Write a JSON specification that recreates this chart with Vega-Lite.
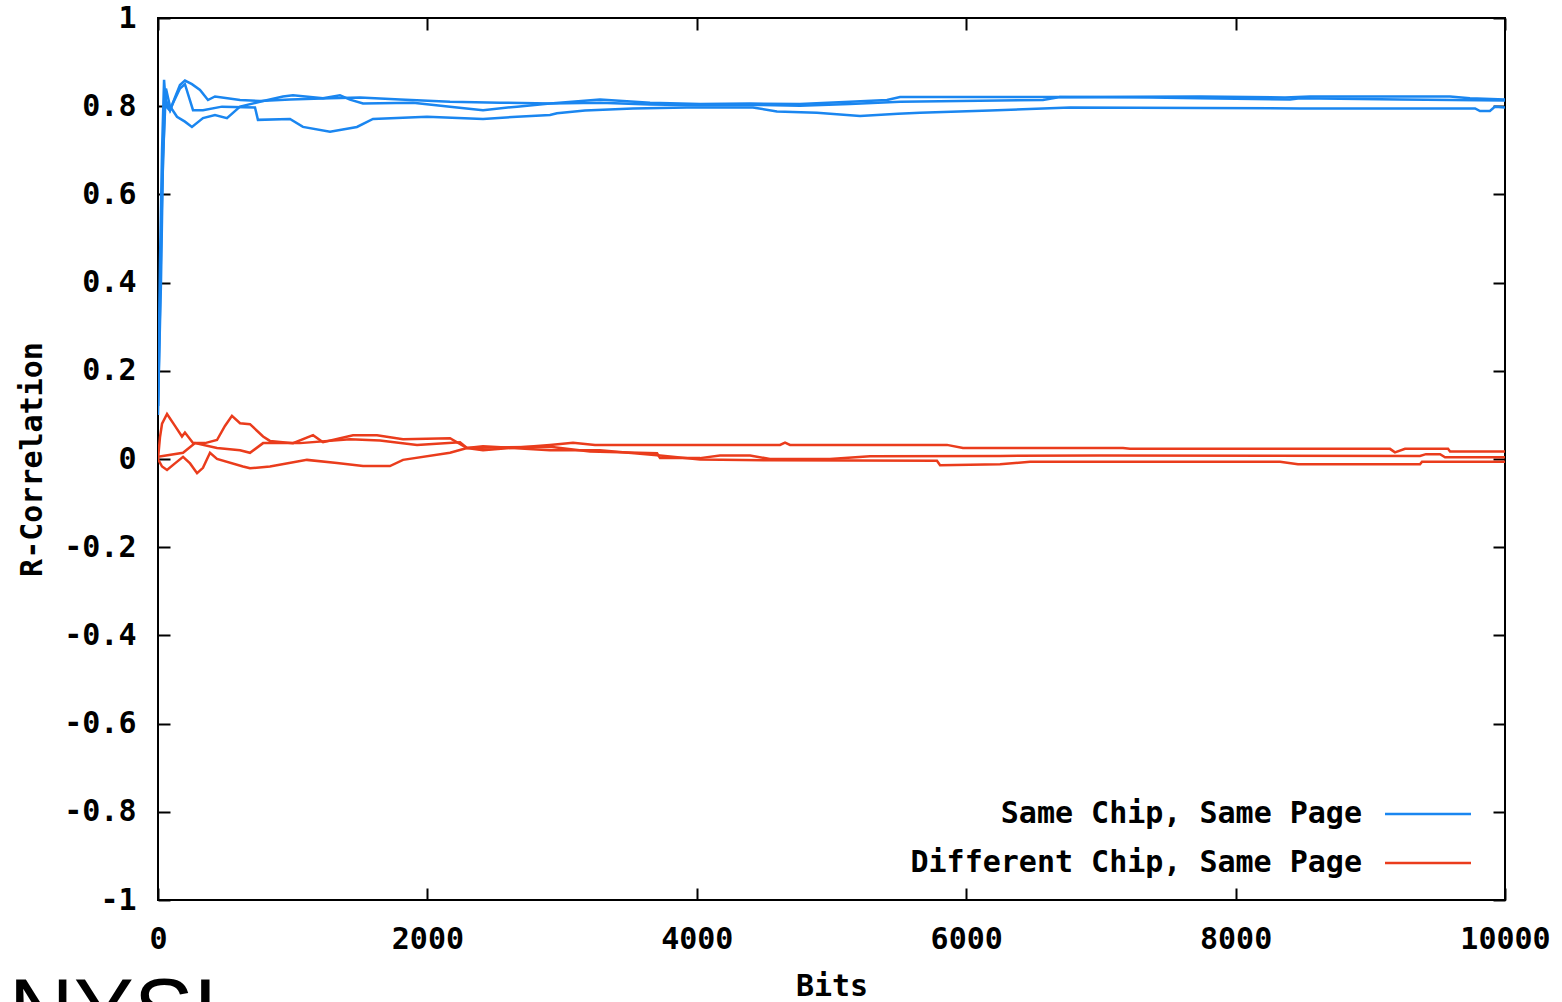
{
  "$schema": "https://vega.github.io/schema/vega-lite/v6.json",
  "width": 1347,
  "height": 882,
  "autosize": {"type": "none"},
  "padding": {"left": 158, "top": 18, "right": 57, "bottom": 102},
  "background": "white",
  "config": {
    "view": {"stroke": "black", "strokeWidth": 2},
    "font": "DejaVu Sans Mono"
  },
  "title": {
    "text": "NYSL",
    "orient": "bottom",
    "anchor": "start",
    "frame": "bounds",
    "font": "Liberation Sans",
    "fontSize": 90,
    "fontWeight": "normal",
    "color": "black",
    "offset": -30,
    "dx": -9
  },
  "datasets": {
    "traces": [
      {"t": "s1", "g": "Same Chip, Same Page"},
      {"t": "s2", "g": "Same Chip, Same Page"},
      {"t": "s3", "g": "Same Chip, Same Page"},
      {"t": "d1", "g": "Different Chip, Same Page"},
      {"t": "d2", "g": "Different Chip, Same Page"},
      {"t": "d3", "g": "Different Chip, Same Page"}
    ],
    "curves": [
      {"t": "s1", "bits": 0, "r": 0.12}, {"t": "s1", "bits": 15, "r": 0.45}, {"t": "s1", "bits": 30, "r": 0.70}, {"t": "s1", "bits": 45, "r": 0.86},
      {"t": "s1", "bits": 59, "r": 0.80}, {"t": "s1", "bits": 89, "r": 0.79}, {"t": "s1", "bits": 126, "r": 0.82}, {"t": "s1", "bits": 163, "r": 0.848},
      {"t": "s1", "bits": 200, "r": 0.858}, {"t": "s1", "bits": 252, "r": 0.85}, {"t": "s1", "bits": 312, "r": 0.837}, {"t": "s1", "bits": 371, "r": 0.814},
      {"t": "s1", "bits": 423, "r": 0.822}, {"t": "s1", "bits": 609, "r": 0.814}, {"t": "s1", "bits": 757, "r": 0.812}, {"t": "s1", "bits": 980, "r": 0.815},
      {"t": "s1", "bits": 1277, "r": 0.818}, {"t": "s1", "bits": 1500, "r": 0.82}, {"t": "s1", "bits": 1797, "r": 0.815}, {"t": "s1", "bits": 2168, "r": 0.81},
      {"t": "s1", "bits": 2539, "r": 0.808}, {"t": "s1", "bits": 2910, "r": 0.806}, {"t": "s1", "bits": 3281, "r": 0.815}, {"t": "s1", "bits": 3653, "r": 0.808},
      {"t": "s1", "bits": 4024, "r": 0.805}, {"t": "s1", "bits": 4395, "r": 0.806}, {"t": "s1", "bits": 4766, "r": 0.805}, {"t": "s1", "bits": 5137, "r": 0.81},
      {"t": "s1", "bits": 5412, "r": 0.814}, {"t": "s1", "bits": 5509, "r": 0.821}, {"t": "s1", "bits": 6771, "r": 0.821}, {"t": "s1", "bits": 7736, "r": 0.822},
      {"t": "s1", "bits": 8367, "r": 0.82}, {"t": "s1", "bits": 8552, "r": 0.822}, {"t": "s1", "bits": 9592, "r": 0.822}, {"t": "s1", "bits": 9740, "r": 0.818},
      {"t": "s1", "bits": 10000, "r": 0.815},

      {"t": "s2", "bits": 0, "r": 0.12}, {"t": "s2", "bits": 22, "r": 0.40}, {"t": "s2", "bits": 37, "r": 0.68}, {"t": "s2", "bits": 59, "r": 0.84},
      {"t": "s2", "bits": 89, "r": 0.80}, {"t": "s2", "bits": 141, "r": 0.776}, {"t": "s2", "bits": 200, "r": 0.765}, {"t": "s2", "bits": 252, "r": 0.753},
      {"t": "s2", "bits": 334, "r": 0.773}, {"t": "s2", "bits": 423, "r": 0.78}, {"t": "s2", "bits": 512, "r": 0.773}, {"t": "s2", "bits": 609, "r": 0.799},
      {"t": "s2", "bits": 757, "r": 0.81}, {"t": "s2", "bits": 928, "r": 0.822}, {"t": "s2", "bits": 1002, "r": 0.825}, {"t": "s2", "bits": 1225, "r": 0.818},
      {"t": "s2", "bits": 1351, "r": 0.825}, {"t": "s2", "bits": 1425, "r": 0.815}, {"t": "s2", "bits": 1522, "r": 0.806}, {"t": "s2", "bits": 1893, "r": 0.808},
      {"t": "s2", "bits": 2168, "r": 0.799}, {"t": "s2", "bits": 2413, "r": 0.791}, {"t": "s2", "bits": 2665, "r": 0.799}, {"t": "s2", "bits": 2910, "r": 0.806},
      {"t": "s2", "bits": 3281, "r": 0.808}, {"t": "s2", "bits": 3653, "r": 0.804}, {"t": "s2", "bits": 4024, "r": 0.802}, {"t": "s2", "bits": 4395, "r": 0.803},
      {"t": "s2", "bits": 4766, "r": 0.801}, {"t": "s2", "bits": 5137, "r": 0.805}, {"t": "s2", "bits": 5509, "r": 0.81}, {"t": "s2", "bits": 5954, "r": 0.812},
      {"t": "s2", "bits": 6570, "r": 0.814}, {"t": "s2", "bits": 6696, "r": 0.821}, {"t": "s2", "bits": 7364, "r": 0.82}, {"t": "s2", "bits": 7736, "r": 0.818},
      {"t": "s2", "bits": 8404, "r": 0.815}, {"t": "s2", "bits": 8478, "r": 0.818}, {"t": "s2", "bits": 9220, "r": 0.815}, {"t": "s2", "bits": 10000, "r": 0.813},

      {"t": "s3", "bits": 0, "r": 0.10}, {"t": "s3", "bits": 15, "r": 0.35}, {"t": "s3", "bits": 30, "r": 0.60}, {"t": "s3", "bits": 52, "r": 0.82},
      {"t": "s3", "bits": 89, "r": 0.79}, {"t": "s3", "bits": 111, "r": 0.807}, {"t": "s3", "bits": 163, "r": 0.84}, {"t": "s3", "bits": 200, "r": 0.85},
      {"t": "s3", "bits": 260, "r": 0.791}, {"t": "s3", "bits": 334, "r": 0.791}, {"t": "s3", "bits": 475, "r": 0.799}, {"t": "s3", "bits": 720, "r": 0.797},
      {"t": "s3", "bits": 742, "r": 0.769}, {"t": "s3", "bits": 980, "r": 0.771}, {"t": "s3", "bits": 1076, "r": 0.753}, {"t": "s3", "bits": 1277, "r": 0.742},
      {"t": "s3", "bits": 1477, "r": 0.753}, {"t": "s3", "bits": 1596, "r": 0.771}, {"t": "s3", "bits": 1997, "r": 0.776}, {"t": "s3", "bits": 2413, "r": 0.771},
      {"t": "s3", "bits": 2665, "r": 0.776}, {"t": "s3", "bits": 2910, "r": 0.78}, {"t": "s3", "bits": 2962, "r": 0.784}, {"t": "s3", "bits": 3170, "r": 0.79},
      {"t": "s3", "bits": 3526, "r": 0.795}, {"t": "s3", "bits": 3927, "r": 0.797}, {"t": "s3", "bits": 4417, "r": 0.797}, {"t": "s3", "bits": 4595, "r": 0.788},
      {"t": "s3", "bits": 4892, "r": 0.785}, {"t": "s3", "bits": 5212, "r": 0.778}, {"t": "s3", "bits": 5494, "r": 0.783}, {"t": "s3", "bits": 5657, "r": 0.785},
      {"t": "s3", "bits": 6177, "r": 0.79}, {"t": "s3", "bits": 6570, "r": 0.795}, {"t": "s3", "bits": 6771, "r": 0.797}, {"t": "s3", "bits": 7736, "r": 0.796},
      {"t": "s3", "bits": 8478, "r": 0.795}, {"t": "s3", "bits": 9778, "r": 0.795}, {"t": "s3", "bits": 9814, "r": 0.789}, {"t": "s3", "bits": 9888, "r": 0.789},
      {"t": "s3", "bits": 9926, "r": 0.799}, {"t": "s3", "bits": 10000, "r": 0.797},

      {"t": "d1", "bits": 0, "r": 0.0}, {"t": "d1", "bits": 15, "r": 0.05}, {"t": "d1", "bits": 30, "r": 0.08}, {"t": "d1", "bits": 67, "r": 0.102},
      {"t": "d1", "bits": 126, "r": 0.075}, {"t": "d1", "bits": 178, "r": 0.051}, {"t": "d1", "bits": 200, "r": 0.06}, {"t": "d1", "bits": 260, "r": 0.036},
      {"t": "d1", "bits": 349, "r": 0.036}, {"t": "d1", "bits": 438, "r": 0.043}, {"t": "d1", "bits": 497, "r": 0.075}, {"t": "d1", "bits": 549, "r": 0.098},
      {"t": "d1", "bits": 609, "r": 0.081}, {"t": "d1", "bits": 683, "r": 0.079}, {"t": "d1", "bits": 780, "r": 0.051}, {"t": "d1", "bits": 831, "r": 0.041},
      {"t": "d1", "bits": 1002, "r": 0.036}, {"t": "d1", "bits": 1151, "r": 0.054}, {"t": "d1", "bits": 1225, "r": 0.038}, {"t": "d1", "bits": 1448, "r": 0.054},
      {"t": "d1", "bits": 1626, "r": 0.054}, {"t": "d1", "bits": 1819, "r": 0.045}, {"t": "d1", "bits": 2168, "r": 0.047}, {"t": "d1", "bits": 2294, "r": 0.025},
      {"t": "d1", "bits": 2413, "r": 0.02}, {"t": "d1", "bits": 2910, "r": 0.032}, {"t": "d1", "bits": 3081, "r": 0.037}, {"t": "d1", "bits": 3244, "r": 0.032},
      {"t": "d1", "bits": 4618, "r": 0.032}, {"t": "d1", "bits": 4655, "r": 0.037}, {"t": "d1", "bits": 4692, "r": 0.032}, {"t": "d1", "bits": 5857, "r": 0.032},
      {"t": "d1", "bits": 5976, "r": 0.025}, {"t": "d1", "bits": 7164, "r": 0.025}, {"t": "d1", "bits": 7216, "r": 0.023}, {"t": "d1", "bits": 9146, "r": 0.023},
      {"t": "d1", "bits": 9183, "r": 0.015}, {"t": "d1", "bits": 9258, "r": 0.023}, {"t": "d1", "bits": 9577, "r": 0.023}, {"t": "d1", "bits": 9592, "r": 0.017},
      {"t": "d1", "bits": 10000, "r": 0.017},

      {"t": "d2", "bits": 0, "r": 0.005}, {"t": "d2", "bits": 186, "r": 0.014}, {"t": "d2", "bits": 275, "r": 0.036}, {"t": "d2", "bits": 438, "r": 0.025},
      {"t": "d2", "bits": 609, "r": 0.02}, {"t": "d2", "bits": 683, "r": 0.014}, {"t": "d2", "bits": 780, "r": 0.036}, {"t": "d2", "bits": 1054, "r": 0.036},
      {"t": "d2", "bits": 1425, "r": 0.045}, {"t": "d2", "bits": 1648, "r": 0.042}, {"t": "d2", "bits": 1923, "r": 0.032}, {"t": "d2", "bits": 2242, "r": 0.038},
      {"t": "d2", "bits": 2294, "r": 0.025}, {"t": "d2", "bits": 2910, "r": 0.028}, {"t": "d2", "bits": 3207, "r": 0.017}, {"t": "d2", "bits": 3705, "r": 0.013},
      {"t": "d2", "bits": 3727, "r": 0.002}, {"t": "d2", "bits": 4024, "r": 0.002}, {"t": "d2", "bits": 4172, "r": 0.008}, {"t": "d2", "bits": 4395, "r": 0.008},
      {"t": "d2", "bits": 4543, "r": 0.0}, {"t": "d2", "bits": 4989, "r": 0.0}, {"t": "d2", "bits": 5286, "r": 0.006}, {"t": "d2", "bits": 6251, "r": 0.007},
      {"t": "d2", "bits": 6993, "r": 0.008}, {"t": "d2", "bits": 9369, "r": 0.007}, {"t": "d2", "bits": 9413, "r": 0.011}, {"t": "d2", "bits": 9518, "r": 0.011},
      {"t": "d2", "bits": 9555, "r": 0.004}, {"t": "d2", "bits": 10000, "r": 0.004},

      {"t": "d3", "bits": 0, "r": 0.0}, {"t": "d3", "bits": 30, "r": -0.017}, {"t": "d3", "bits": 67, "r": -0.025}, {"t": "d3", "bits": 126, "r": -0.01},
      {"t": "d3", "bits": 186, "r": 0.005}, {"t": "d3", "bits": 238, "r": -0.01}, {"t": "d3", "bits": 290, "r": -0.032}, {"t": "d3", "bits": 334, "r": -0.02},
      {"t": "d3", "bits": 386, "r": 0.014}, {"t": "d3", "bits": 438, "r": 0.0}, {"t": "d3", "bits": 631, "r": -0.017}, {"t": "d3", "bits": 683, "r": -0.021},
      {"t": "d3", "bits": 831, "r": -0.017}, {"t": "d3", "bits": 1106, "r": -0.002}, {"t": "d3", "bits": 1329, "r": -0.009}, {"t": "d3", "bits": 1522, "r": -0.016},
      {"t": "d3", "bits": 1722, "r": -0.016}, {"t": "d3", "bits": 1819, "r": -0.002}, {"t": "d3", "bits": 2168, "r": 0.014}, {"t": "d3", "bits": 2294, "r": 0.025},
      {"t": "d3", "bits": 2413, "r": 0.029}, {"t": "d3", "bits": 2910, "r": 0.02}, {"t": "d3", "bits": 3281, "r": 0.02}, {"t": "d3", "bits": 3727, "r": 0.008},
      {"t": "d3", "bits": 4024, "r": -0.001}, {"t": "d3", "bits": 4543, "r": -0.003}, {"t": "d3", "bits": 5783, "r": -0.004}, {"t": "d3", "bits": 5806, "r": -0.014},
      {"t": "d3", "bits": 6251, "r": -0.012}, {"t": "d3", "bits": 6474, "r": -0.006}, {"t": "d3", "bits": 8330, "r": -0.006}, {"t": "d3", "bits": 8463, "r": -0.012},
      {"t": "d3", "bits": 9369, "r": -0.012}, {"t": "d3", "bits": 9384, "r": -0.006}, {"t": "d3", "bits": 10000, "r": -0.006}
    ]
  },
  "data": {"name": "curves"},
  "transform": [
    {"lookup": "t", "from": {"data": {"name": "traces"}, "key": "t", "fields": ["g"]}}
  ],
  "layer": [
    {
      "mark": {"type": "line", "strokeWidth": 2.5, "clip": true},
      "encoding": {
        "x": {
          "field": "bits",
          "type": "quantitative",
          "title": "Bits",
          "scale": {"domain": [0, 10000], "nice": false, "zero": false},
          "axis": {
            "orient": "bottom",
            "values": [0, 2000, 4000, 6000, 8000, 10000],
            "format": "d",
            "grid": false,
            "domain": false,
            "tickSize": -12,
            "tickWidth": 2,
            "tickColor": "black",
            "labelPadding": 36,
            "labelFlush": false,
            "labelOverlap": false,
            "labelFont": "DejaVu Sans Mono",
            "labelFontWeight": "bold",
            "labelFontSize": 30,
            "labelColor": "black",
            "titleFont": "DejaVu Sans Mono",
            "titleFontWeight": "bold",
            "titleFontSize": 30,
            "titleColor": "black",
            "titlePadding": 17
          }
        },
        "y": {
          "field": "r",
          "type": "quantitative",
          "title": "R-Correlation",
          "scale": {"domain": [-1, 1], "nice": false, "zero": false},
          "axis": {
            "orient": "left",
            "values": [-1, -0.8, -0.6, -0.4, -0.2, 0, 0.2, 0.4, 0.6, 0.8, 1],
            "labelExpr": "'' + datum.value",
            "grid": false,
            "domain": false,
            "tickSize": -12,
            "tickWidth": 2,
            "tickColor": "black",
            "labelPadding": 34,
            "labelFlush": false,
            "labelOverlap": false,
            "labelFont": "DejaVu Sans Mono",
            "labelFontWeight": "bold",
            "labelFontSize": 30,
            "labelColor": "black",
            "titleFont": "DejaVu Sans Mono",
            "titleFontWeight": "bold",
            "titleFontSize": 30,
            "titleColor": "black",
            "titlePadding": 16
          }
        },
        "color": {
          "field": "g",
          "type": "nominal",
          "scale": {
            "domain": ["Same Chip, Same Page", "Different Chip, Same Page"],
            "range": ["#1a86f0", "#ea3c1c"]
          },
          "legend": {
            "orient": "none",
            "legendX": 1247,
            "legendY": 773,
            "title": null,
            "padding": 0,
            "symbolType": "M-2,0H2",
            "symbolSize": 1849,
            "symbolStrokeWidth": 2.5,
            "symbolFillColor": "transparent",
            "labelAlign": "right",
            "labelOffset": -89,
            "labelFont": "DejaVu Sans Mono",
            "labelFontWeight": "bold",
            "labelFontSize": 30,
            "labelColor": "black",
            "labelLimit": 0,
            "rowPadding": 11
          }
        },
        "detail": {"field": "t"}
      }
    },
    {
      "mark": {"type": "line", "opacity": 0},
      "encoding": {
        "x": {
          "field": "bits",
          "type": "quantitative",
          "scale": {"domain": [0, 10000], "nice": false, "zero": false},
          "axis": {
            "orient": "top",
            "title": null,
            "values": [0, 2000, 4000, 6000, 8000, 10000],
            "labels": false,
            "grid": false,
            "domain": false,
            "tickSize": -12,
            "tickWidth": 2,
            "tickColor": "black"
          }
        },
        "y": {
          "field": "r",
          "type": "quantitative",
          "scale": {"domain": [-1, 1], "nice": false, "zero": false},
          "axis": {
            "orient": "right",
            "title": null,
            "values": [-1, -0.8, -0.6, -0.4, -0.2, 0, 0.2, 0.4, 0.6, 0.8, 1],
            "labels": false,
            "grid": false,
            "domain": false,
            "tickSize": -12,
            "tickWidth": 2,
            "tickColor": "black"
          }
        },
        "detail": {"field": "t"}
      }
    }
  ],
  "resolve": {"axis": {"x": "independent", "y": "independent"}}
}
